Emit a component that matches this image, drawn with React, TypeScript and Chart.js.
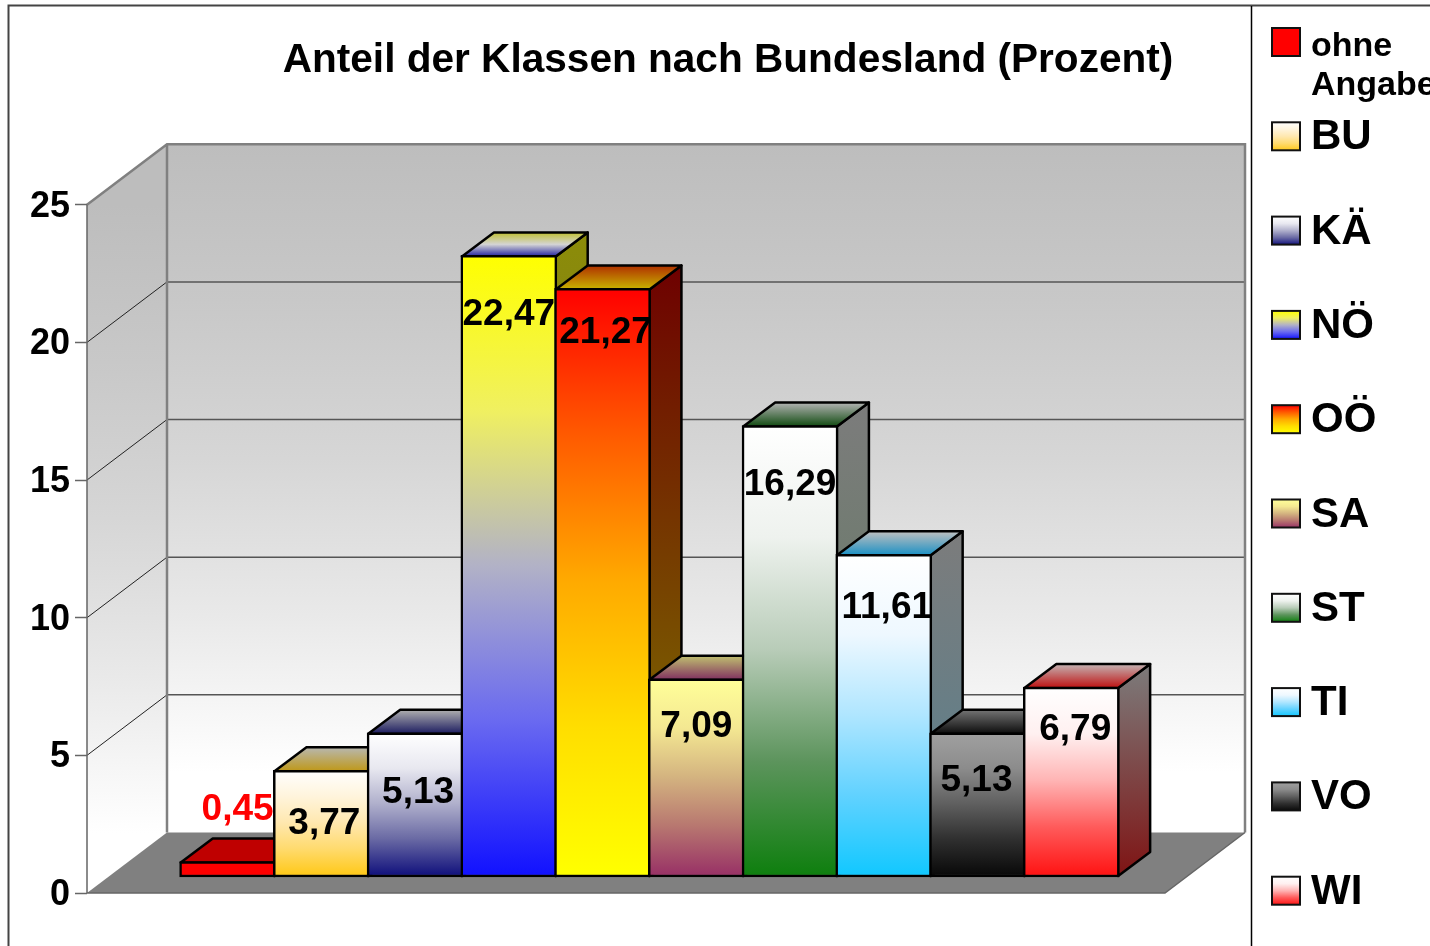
import React, { useEffect, useRef } from "react";
import { Chart, registerables } from "chart.js";

Chart.register(...registerables);

const categories = ["ohne Angabe", "BU", "KÄ", "NÖ", "OÖ", "SA", "ST", "TI", "VO", "WI"];
const values = [0.45, 3.77, 5.13, 22.47, 21.27, 7.09, 16.29, 11.61, 5.13, 6.79];
const valueLabels = ["0,45", "3,77", "5,13", "22,47", "21,27", "7,09", "16,29", "11,61", "5,13", "6,79"];
const yTicks = [0, 5, 10, 15, 20, 25];
const titleText = "Anteil der Klassen nach Bundesland (Prozent)";

// Manually placed data labels of the reference, as [dx, dy] from the bar's top centre.
const labelNudge = [
  [10, -52], [3, 54], [3, 60], [0, 59], [3, 44], [0, 48], [0, 59], [3, 53], [-1, 48], [4, 43],
];

const frontStops = [
  ["#ff0000", "#ff0000"],
  ["#ffffff", "#fff4dc", "#ffe8b0", "#ffdb70", "#ffc91c"],
  ["#ffffff", "#e8e8f0", "#b0b0cc", "#6a6aa4", "#14147e"],
  ["#ffff00", "#f0f060", "#b2b2c6", "#6a6af0", "#1212ff"],
  ["#ff0000", "#ff5a00", "#ffaa00", "#ffde00", "#ffff00"],
  ["#ffff99", "#f4e892", "#d4b480", "#b87870", "#993366"],
  ["#ffffff", "#eef2ee", "#b8ccb8", "#5c945c", "#0f7f0f"],
  ["#ffffff", "#eef8ff", "#b0e6ff", "#62d2ff", "#13c8ff"],
  ["#a0a0a0", "#8c8c8c", "#606060", "#303030", "#0a0a0a"],
  ["#ffffff", "#fff0f0", "#ffb4b4", "#ff5a5a", "#ff1515"],
];
const topStops = [
  ["#bf0000", "#bf0000"],
  ["#b8b8b0", "#bf9818"],
  ["#b0b0b0", "#1c1c60"],
  ["#c0c030", "#d4d4d4", "#2424a0"],
  ["#b03000", "#c8b400"],
  ["#c0c070", "#803060"],
  ["#b4b4b4", "#104a10"],
  ["#c0c0c0", "#1a90c4"],
  ["#747474", "#0c0c0c"],
  ["#c4b4b4", "#bf1010"],
];
const sideStops = [
  ["#7f0000", "#7f0000"],
  ["#7f7a60", "#7f640e"],
  ["#707080", "#0a0a40"],
  ["#8c8c08", "#6a6a40"],
  ["#6e0000", "#7f7f00"],
  ["#7f7f4c", "#4c1933"],
  ["#7c7c7c", "#5a7a5a"],
  ["#7c7c7c", "#55808f"],
  ["#505050", "#050505"],
  ["#7c7c7c", "#7f1414"],
];
const wallStops = ["#bdbdbd", "#c8c8c8", "#d6d6d6", "#e9e9e9", "#ffffff"];
const legendStops = frontStops;

const DX = 32;
const DY = -24;
const WALL_DX = 80;
const WALL_DY = -60.5;

function vGrad(ctx: CanvasRenderingContext2D, y0: number, y1: number, stops: string[]) {
  const g = ctx.createLinearGradient(0, y0, 0, y1);
  stops.forEach((c, i) => g.addColorStop(i / (stops.length - 1), c));
  return g;
}

function poly(ctx: CanvasRenderingContext2D, pts: number[][]) {
  ctx.beginPath();
  pts.forEach(([x, y], i) => (i ? ctx.lineTo(x, y) : ctx.moveTo(x, y)));
  ctx.closePath();
}

const titlePlacement = {
  id: "titlePlacement",
  afterLayout(chart: any) {
    // the reference centres its title over a 1456px wide picture
    chart.titleBlock.left = 0;
    chart.titleBlock.right = 1456;
  },
};

const wallsPlugin = {
  id: "walls",
  beforeDraw(chart: any) {
    const { ctx, chartArea: a, scales } = chart;
    const y = scales.y;
    const y0 = y.getPixelForValue(0);
    const yTop = y.getPixelForValue(25);
    const L = a.left;
    const R = a.right;
    ctx.save();
    ctx.fillStyle = "#ffffff";
    ctx.fillRect(0, 0, chart.width, chart.height);

    // frame of the picture and legend separator
    ctx.strokeStyle = "#444444";
    ctx.lineWidth = 2;
    ctx.beginPath();
    ctx.moveTo(8.5, 946);
    ctx.lineTo(8.5, 5.5);
    ctx.lineTo(1430, 5.5);
    ctx.stroke();
    ctx.strokeStyle = "#000000";
    ctx.lineWidth = 1.5;
    ctx.beginPath();
    ctx.moveTo(1251.5, 6);
    ctx.lineTo(1251.5, 946);
    ctx.stroke();

    // back wall
    ctx.fillStyle = vGrad(ctx, yTop + WALL_DY, y0 + WALL_DY - 60, wallStops);
    ctx.fillRect(L + WALL_DX, yTop + WALL_DY, R - L, y0 - yTop);
    // left wall
    poly(ctx, [[L, yTop], [L + WALL_DX, yTop + WALL_DY], [L + WALL_DX, y0 + WALL_DY], [L, y0]]);
    ctx.fillStyle = vGrad(ctx, yTop, y0 - 60, wallStops);
    ctx.fill();
    // floor
    poly(ctx, [[L, y0], [R, y0], [R + WALL_DX, y0 + WALL_DY], [L + WALL_DX, y0 + WALL_DY]]);
    ctx.fillStyle = "#808080";
    ctx.fill();

    // gridlines from the value axis
    yTicks.forEach((t) => {
      if (t === 0 || t === 25) return;
      const p = y.getPixelForValue(t);
      ctx.strokeStyle = "#555555";
      ctx.lineWidth = 1.5;
      ctx.beginPath();
      ctx.moveTo(L + WALL_DX, p + WALL_DY);
      ctx.lineTo(R + WALL_DX, p + WALL_DY);
      ctx.stroke();
      ctx.strokeStyle = "#222222";
      ctx.lineWidth = 1;
      ctx.beginPath();
      ctx.moveTo(L, p);
      ctx.lineTo(L + WALL_DX, p + WALL_DY);
      ctx.stroke();
    });

    // wall edges
    ctx.strokeStyle = "#808080";
    ctx.lineWidth = 2.5;
    ctx.beginPath();
    ctx.moveTo(L, yTop);
    ctx.lineTo(L + WALL_DX, yTop + WALL_DY);
    ctx.lineTo(R + WALL_DX, yTop + WALL_DY);
    ctx.lineTo(R + WALL_DX, y0 + WALL_DY);
    ctx.moveTo(L + WALL_DX, yTop + WALL_DY);
    ctx.lineTo(L + WALL_DX, y0 + WALL_DY);
    ctx.stroke();
    ctx.strokeStyle = "#666666";
    ctx.lineWidth = 1.5;
    ctx.beginPath();
    ctx.moveTo(L, yTop);
    ctx.lineTo(L, y0);
    ctx.lineTo(R, y0);
    ctx.lineTo(R + WALL_DX, y0 + WALL_DY);
    ctx.stroke();
    ctx.restore();
  },
};

const bar3dPlugin = {
  id: "bar3d",
  beforeDatasetsDraw(chart: any) {
    const { ctx } = chart;
    const bars = chart.getDatasetMeta(0).data;
    ctx.save();
    ctx.strokeStyle = "#000000";
    ctx.lineWidth = 2.5;
    ctx.lineJoin = "round";
    bars.forEach((b: any, i: number) => {
      const half = 93.74 / 2;
      const l = b.x - half;
      const r = b.x + half;
      const t = b.y + 1;
      const bt = b.base - 1;
      // side face
      poly(ctx, [[r, t], [r + DX, t + DY], [r + DX, bt + DY], [r, bt]]);
      ctx.fillStyle = vGrad(ctx, t + DY, bt, sideStops[i]);
      ctx.fill();
      ctx.stroke();
      // top face
      poly(ctx, [[l, t], [r, t], [r + DX, t + DY], [l + DX, t + DY]]);
      ctx.fillStyle = vGrad(ctx, t + DY, t, topStops[i]);
      ctx.fill();
      ctx.stroke();
    });
    ctx.restore();
  },
  afterDatasetsDraw(chart: any) {
    const { ctx } = chart;
    const bars = chart.getDatasetMeta(0).data;
    ctx.save();
    ctx.font = 'bold 37px "Liberation Sans", Arial, sans-serif';
    ctx.textAlign = "center";
    ctx.textBaseline = "middle";
    bars.forEach((b: any, i: number) => {
      ctx.fillStyle = i === 0 ? "#ff0000" : "#000000";
      ctx.fillText(valueLabels[i], b.x + labelNudge[i][0], b.y + labelNudge[i][1]);
    });
    ctx.restore();
  },
};

const legendPlugin = {
  id: "sideLegend",
  afterDraw(chart: any) {
    const { ctx } = chart;
    const boxX = 1272;
    const textX = 1311;
    const size = 28;
    ctx.save();
    categories.forEach((name, i) => {
      const top = 28 + i * 94.3;
      ctx.fillStyle = vGrad(ctx, top, top + size, legendStops[i]);
      ctx.fillRect(boxX, top, size, size);
      ctx.strokeStyle = "#111111";
      ctx.lineWidth = 2;
      ctx.strokeRect(boxX, top, size, size);
      ctx.fillStyle = "#000000";
      ctx.textAlign = "left";
      ctx.textBaseline = "alphabetic";
      if (i === 0) {
        ctx.font = 'bold 34px "Liberation Sans", Arial, sans-serif';
        const [a, b] = name.split(" ");
        ctx.fillText(a, textX, 56);
        ctx.fillText(b, textX, 95);
      } else {
        ctx.font = 'bold 42px "Liberation Sans", Arial, sans-serif';
        ctx.fillText(name, textX, top + size - 1);
      }
    });
    ctx.restore();
  },
};

export default function App() {
  const ref = useRef<HTMLCanvasElement>(null);
  useEffect(() => {
    const chart = new Chart(ref.current as any, {
      type: "bar",
      data: {
        datasets: [
          {
            label: "Anteil",
            xAxisID: "x",
            yAxisID: "yBars",
            data: values.map((y, x) => ({ x, y })) as any,
            barThickness: 96,
            base: -0.11,
            borderColor: "#000000",
            borderWidth: 2.5,
            borderSkipped: false,
            backgroundColor: (c: any) => {
              const s = c.chart.scales.yBars;
              const i = c.dataIndex ?? 0;
              const y0 = s ? s.getPixelForValue(values[i]) : NaN;
              const y1 = s ? s.getPixelForValue(0) : NaN;
              if (!Number.isFinite(y0) || !Number.isFinite(y1)) return "#888888";
              return vGrad(c.chart.ctx, y0, y1, frontStops[i]);
            },
          } as any,
        ],
      },
      options: {
        responsive: false,
        animation: false,
        devicePixelRatio: 1,
        layout: { padding: { left: 0, top: 0, right: 265, bottom: 53 } },
        plugins: {
          legend: { display: false },
          tooltip: { enabled: false },
          title: {
            display: true,
            text: titleText,
            color: "#000000",
            font: { family: '"Liberation Sans", Arial, sans-serif', size: 40.6, weight: "bold", lineHeight: 1.2 },
            padding: { top: 36, bottom: 120 },
          },
        },
        scales: {
          x: { type: "linear", min: -1.5, max: 10, display: false, offset: false },
          yBars: { type: "linear", min: -0.69, max: 24.31, display: false },
          y: {
            type: "linear",
            position: "left",
            min: 0,
            max: 25,
            afterFit: (s: any) => {
              s.width = 87;
            },
            afterBuildTicks: (s: any) => {
              s.ticks = yTicks.map((value) => ({ value }));
            },
            border: { display: false },
            grid: { drawOnChartArea: false, tickLength: 12, tickColor: "#666666", tickWidth: 1.5 },
            ticks: {
              color: "#000000",
              padding: 5,
              labelOffset: 2,
              font: { family: '"Liberation Sans", Arial, sans-serif', size: 36, weight: "bold" },
            },
          },
        },
      } as any,
      plugins: [titlePlacement, wallsPlugin, bar3dPlugin, legendPlugin],
    });
    return () => chart.destroy();
  }, []);
  return (
    <div style={{ position: "fixed", left: 0, top: 0, width: 1430, height: 946, overflow: "hidden", background: "#fff" }}>
      <canvas ref={ref} width={1430} height={946} style={{ display: "block", width: 1430, height: 946 }} />
    </div>
  );
}
